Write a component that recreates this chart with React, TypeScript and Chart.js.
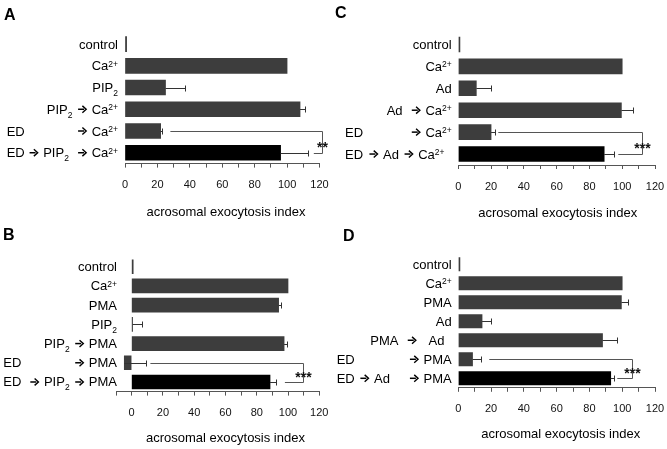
import React, { useEffect, useRef } from "react";
import { Chart, registerables } from "chart.js";

Chart.register(...registerables);

const FONT = "'Liberation Sans', Arial, Helvetica, sans-serif";

// ---------- data ----------
const tickLabels = [0, 20, 40, 60, 80, 100, 120];
const axisTitle = "acrosomal exocytosis index";

// Panel A  ("|" separates the left-aligned part of a label from its right-aligned part)
const catsA = ["control", "Ca^{2+}", "PIP_{2}", "PIP_{2} → Ca^{2+}", "ED|→ Ca^{2+}", "ED|→ PIP_{2}  → Ca^{2+}"];
const valsA = [1, 100, 25, 108, 22, 96];
const errA = [0, 0, 12, 3, 1, 17];
const sigA = { from: 4, to: 5, start: 28, end: 121.5, endStart: 116.5, stars: "**" };

// Panel B
const catsB = ["control", "Ca^{2+}", "PMA", "PIP_{2}", "PIP_{2} → PMA", "ED|→ PMA", "ED|→ PIP_{2} → PMA"];
const valsB = [1, 100, 94, 0.6, 97.5, -4.7, 88.5];
const errB = [0, 0, 1.5, 6, 2, 13.7, 4];
const sigB = { from: 5, to: 6, start: 12, end: 109.3, endStart: 98, stars: "***" };

// Panel C
const catsC = ["control", "Ca^{2+}", "Ad", "Ad  → Ca^{2+}", "ED|→ Ca^{2+}", "ED|→ Ad → Ca^{2+}  "];
const valsC = [1, 100, 11, 99.5, 20, 89];
const errC = [0, 0, 9, 7, 2.5, 6];
const sigC = { from: 4, to: 5, start: 24.4, end: 112, endStart: 97.6, stars: "***" };

// Panel D
const catsD = ["control", "Ca^{2+}", "PMA", "Ad", "PMA  →   Ad  ", "ED|→ PMA", "ED → Ad|→ PMA"];
const valsD = [1, 100, 99.5, 14.5, 88, 8.7, 93];
const errD = [0, 0, 3.8, 5.2, 8.6, 5, 1.8];
const sigD = { from: 5, to: 6, start: 18.9, end: 106.2, endStart: 97, stars: "***" };

// ---------- layout per panel ----------
type Sig = { from: number; to: number; start: number; end: number; endStart: number; stars: string };
type Panel = {
  letter: string; cats: string[]; vals: number[]; errs: number[]; sig: Sig;
  min: number; max: number;
  posLeft: number; posTop: number; W: number; H: number;
  x0: number; x1: number; top: number; bottom: number; bar: number;
  labelRight: number; leftX: number; letterX: number; letterY: number;
  titleDX: number; titleY: number;
};

const panels: Panel[] = [
  { letter: "A", cats: catsA, vals: valsA, errs: errA, sig: sigA, min: 0, max: 120,
    posLeft: 0, posTop: 0, W: 334, H: 224, x0: 125, x1: 319.5, top: 33.2, bottom: 163.6, bar: 15,
    labelRight: 118, leftX: 6.7, letterX: 4, letterY: 20, titleDX: 3.7, titleY: 212.5 },
  { letter: "C", cats: catsC, vals: valsC, errs: errC, sig: sigC, min: 0, max: 120,
    posLeft: 334, posTop: 0, W: 333, H: 224, x0: 124.3, x1: 321, top: 33.5, bottom: 165, bar: 15,
    labelRight: 117.7, leftX: 11, letterX: 1, letterY: 18, titleDX: 1, titleY: 213.5 },
  { letter: "B", cats: catsB, vals: valsB, errs: errB, sig: sigB, min: -10, max: 120,
    posLeft: 0, posTop: 224, W: 334, H: 225, x0: 116, x1: 319.3, top: 33.1, bottom: 167.6, bar: 14,
    labelRight: 117, leftX: 3.3, letterX: 3, letterY: 15.5, titleDX: 0, titleY: 214 },
  { letter: "D", cats: catsD, vals: valsD, errs: errD, sig: sigD, min: 0, max: 120,
    posLeft: 334, posTop: 224, W: 333, H: 225, x0: 124.3, x1: 321, top: 30.7, bottom: 163.8, bar: 13.5,
    labelRight: 117.7, leftX: 2.7, letterX: 9, letterY: 16.5, titleDX: 4, titleY: 210.5 },
];

// ---------- rich text ----------
type Seg = { t: string; k: "n" | "sup" | "sub" | "arr" };
function parseRich(s: string): Seg[] {
  const segs: Seg[] = [];
  let buf = "";
  const push = (t: string, k: Seg["k"]) => { if (t) segs.push({ t, k }); };
  let i = 0;
  while (i < s.length) {
    const c = s[i];
    if ((c === "^" || c === "_") && s[i + 1] === "{") {
      push(buf, "n"); buf = "";
      const j = s.indexOf("}", i);
      push(s.slice(i + 2, j), c === "^" ? "sup" : "sub");
      i = j + 1; continue;
    }
    if (c === "→") { push(buf, "n"); buf = ""; push("→", "arr"); i++; continue; }
    buf += c; i++;
  }
  push(buf, "n");
  return segs;
}
const ARROW_W = 12;
const segFont = (k: Seg["k"]) => (k === "n" ? `13px ${FONT}` : `8.5px ${FONT}`);
const segDy = (k: Seg["k"]) => (k === "sup" ? -3.5 : k === "sub" ? 4 : 0);

function drawArrow(ctx: CanvasRenderingContext2D, x0: number, baseline: number) {
  const x = x0 + 1.5;
  const cy = baseline - 4.5;
  ctx.save();
  ctx.strokeStyle = ctx.fillStyle as string;
  ctx.lineWidth = 1.5;
  ctx.beginPath();
  ctx.moveTo(x + 0.5, cy);
  ctx.lineTo(x + 6.5, cy);
  ctx.stroke();
  ctx.lineWidth = 1.4;
  ctx.beginPath();
  ctx.moveTo(x + 4.8, cy - 3.4);
  ctx.lineTo(x + 8.6, cy);
  ctx.lineTo(x + 4.8, cy + 3.4);
  ctx.stroke();
  ctx.restore();
}

function drawRich(ctx: CanvasRenderingContext2D, s: string, x: number, y: number, align: "left" | "right") {
  const segs = parseRich(s);
  ctx.textAlign = "left";
  ctx.textBaseline = "alphabetic";
  let total = 0;
  const widths = segs.map((sg) => {
    if (sg.k === "arr") { total += ARROW_W; return ARROW_W; }
    ctx.font = segFont(sg.k);
    const w = ctx.measureText(sg.t).width;
    total += w;
    return w;
  });
  let cx = align === "right" ? x - total : x;
  segs.forEach((sg, i) => {
    if (sg.k === "arr") {
      drawArrow(ctx, cx, y);
    } else {
      ctx.font = segFont(sg.k);
      ctx.fillText(sg.t, cx, y + segDy(sg.k));
    }
    cx += widths[i];
  });
}

function overlay(p: Panel) {
  return {
    id: "overlay" + p.letter,
    afterDatasetsDraw(chart: any) {
      const ctx: CanvasRenderingContext2D = chart.ctx;
      const xs = chart.scales.x;
      const ys = chart.scales.y;
      ctx.save();
      // error bars
      ctx.strokeStyle = "#333";
      ctx.lineWidth = 1;
      p.vals.forEach((v, i) => {
        const e = p.errs[i];
        if (!e) return;
        const y = Math.round(ys.getPixelForValue(i)) + 0.5;
        const xa = xs.getPixelForValue(v);
        const xb = Math.round(xs.getPixelForValue(v + e)) + 0.5;
        ctx.beginPath();
        ctx.moveTo(xa, y); ctx.lineTo(xb, y);
        ctx.moveTo(xb, y - 3); ctx.lineTo(xb, y + 3);
        ctx.stroke();
      });
      // significance bracket
      const sg = p.sig;
      const ya = Math.round(ys.getPixelForValue(sg.from)) + 0.5;
      const yb = Math.round(ys.getPixelForValue(sg.to)) + 0.5;
      const xe = Math.round(xs.getPixelForValue(sg.end)) + 0.5;
      ctx.strokeStyle = "#555";
      ctx.beginPath();
      ctx.moveTo(xs.getPixelForValue(sg.start), ya); ctx.lineTo(xe, ya);
      ctx.lineTo(xe, yb);
      ctx.lineTo(xs.getPixelForValue(sg.endStart), yb);
      ctx.stroke();
      ctx.fillStyle = "#111";
      ctx.font = `bold 14px ${FONT}`;
      ctx.textAlign = "center";
      ctx.textBaseline = "alphabetic";
      ctx.fillText(sg.stars, xe, (ya + yb) / 2 + 9);
      // category labels
      ctx.fillStyle = "#000";
      p.cats.forEach((c, i) => {
        const y = ys.getPixelForValue(i) + 4.5;
        const parts = c.split("|");
        if (parts.length === 2) {
          drawRich(ctx, parts[0], p.leftX, y, "left");
          drawRich(ctx, parts[1], p.labelRight, y, "right");
        } else {
          drawRich(ctx, c, p.labelRight, y, "right");
        }
      });
      // axis title
      ctx.font = `13px ${FONT}`;
      ctx.textAlign = "center";
      ctx.textBaseline = "middle";
      ctx.fillText(axisTitle, (xs.getPixelForValue(0) + xs.getPixelForValue(120)) / 2 + p.titleDX, p.titleY);
      // panel letter
      ctx.font = `bold 16px ${FONT}`;
      ctx.textAlign = "left";
      ctx.textBaseline = "alphabetic";
      ctx.fillText(p.letter, p.letterX, p.letterY);
      ctx.restore();
    },
  };
}

function PanelChart({ p }: { p: Panel }) {
  const ref = useRef<HTMLCanvasElement | null>(null);
  useEffect(() => {
    if (!ref.current) return;
    const colors = p.vals.map((_, i) => (i === p.vals.length - 1 ? "#000000" : "#3d3d3d"));
    const chart = new Chart(ref.current, {
      type: "bar",
      data: {
        labels: p.cats,
        datasets: [{ data: p.vals, backgroundColor: colors, borderWidth: 0, barThickness: p.bar } as any],
      },
      options: {
        indexAxis: "y",
        animation: false,
        responsive: false,
        maintainAspectRatio: false,
        devicePixelRatio: 1,
        events: [],
        layout: { padding: { left: p.x0, right: p.W - p.x1, top: p.top, bottom: 0 } },
        plugins: { legend: { display: false }, tooltip: { enabled: false } },
        scales: {
          y: { display: false },
          x: {
            type: "linear",
            position: "bottom",
            min: p.min,
            max: p.max,
            afterFit: (s: any) => {
              s.height = p.H - p.bottom;
              s.paddingLeft = 0;
              s.paddingRight = 0;
            },
            border: { display: true, color: "#555", width: 1 },
            grid: { drawOnChartArea: false, drawTicks: true, tickLength: 4, color: "#555", lineWidth: 1 },
            ticks: {
              stepSize: 10,
              autoSkip: false,
              maxRotation: 0,
              padding: 11,
              color: "#111",
              font: { family: FONT, size: 11 },
              callback: (v: any) => (tickLabels.includes(Number(v)) ? String(v) : ""),
            },
          },
        },
      } as any,
      plugins: [overlay(p)],
    });
    return () => chart.destroy();
  }, [p]);
  return (
    <canvas
      ref={ref}
      width={p.W}
      height={p.H}
      style={{ position: "absolute", left: p.posLeft, top: p.posTop, width: p.W, height: p.H, display: "block" }}
    />
  );
}

export default function App() {
  return (
    <div style={{ position: "absolute", left: 0, top: 0, width: 667, height: 449, background: "#fff", overflow: "hidden" }}>
      {panels.map((p) => (
        <PanelChart key={p.letter} p={p} />
      ))}
    </div>
  );
}
